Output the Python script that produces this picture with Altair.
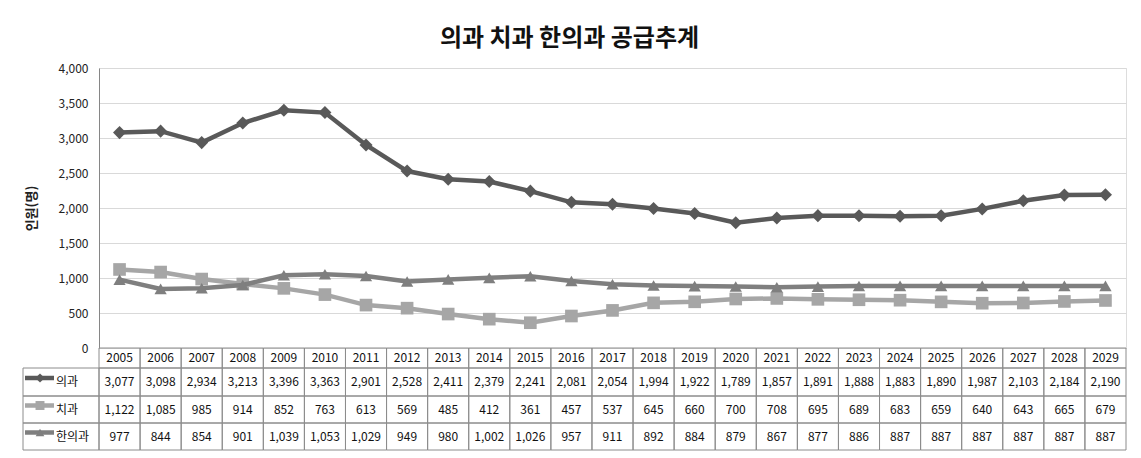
import altair as alt
import pandas as pd

years = ["2005", "2006", "2007", "2008", "2009", "2010", "2011", "2012", "2013",
         "2014", "2015", "2016", "2017", "2018", "2019", "2020", "2021", "2022",
         "2023", "2024", "2025", "2026", "2027", "2028", "2029"]
medical = [3077, 3098, 2934, 3213, 3396, 3363, 2901, 2528, 2411, 2379, 2241, 2081, 2054,
           1994, 1922, 1789, 1857, 1891, 1888, 1883, 1890, 1987, 2103, 2184, 2190]
dental = [1122, 1085, 985, 914, 852, 763, 613, 569, 485, 412, 361, 457, 537,
          645, 660, 700, 708, 695, 689, 683, 659, 640, 643, 665, 679]
oriental = [977, 844, 854, 901, 1039, 1053, 1029, 949, 980, 1002, 1026, 957, 911,
            892, 884, 879, 867, 877, 886, 887, 887, 887, 887, 887, 887]
y_ticks = [0, 500, 1000, 1500, 2000, 2500, 3000, 3500, 4000]

series_names = ["의과", "치과", "한의과"]
series_values = [medical, dental, oriental]
series_colors = ["#595959", "#A6A6A6", "#7F7F7F"]
series_shapes = ["diamond", "square", "triangle-up"]
series_sizes = [170, 160, 150]

FONT = "Noto Sans CJK KR"
BORDER = "#8C8C8C"

rows = []
for name, vals in zip(series_names, series_values):
    for y, v in zip(years, vals):
        rows.append({"year": y, "series": name, "value": v})
df = pd.DataFrame(rows)
year_df = pd.DataFrame({"year": years})

x_enc = alt.X("year:O", sort=years, axis=None,
              scale=alt.Scale(type="band", paddingInner=0, paddingOuter=0))
y_enc = alt.Y("value:Q", scale=alt.Scale(domain=[0, 4000]),
              axis=alt.Axis(values=y_ticks, format=",.0f", title="인원(명)", grid=True,
                            gridColor="#D9D9D9", domainColor="#868686", ticks=False,
                            labelPadding=11, labelFont=FONT, labelFontSize=12,
                            labelColor="#222222", titleFont=FONT, titleFontSize=13,
                            titleFontWeight="bold", titleColor="#222222", titlePadding=20))

layers = []
for name, color, shape, size in zip(series_names, series_colors, series_shapes, series_sizes):
    sub = df[df["series"] == name]
    base = alt.Chart(sub)
    layers.append(base.mark_line(color=color, strokeWidth=4.5).encode(x=x_enc, y=y_enc))
    layers.append(base.mark_point(color=color, shape=shape, filled=True, opacity=1, size=size)
                  .encode(x=x_enc, y=y_enc))

# table rows: (top, bottom) in pixels relative to plot top
row_bounds = [(280, 300), (300, 328), (328, 355), (355, 382)]

hdr_top, hdr_bot = row_bounds[0]
layers.append(alt.Chart(year_df).mark_rect(fill="transparent", stroke=BORDER, strokeWidth=1)
              .encode(x=x_enc, y=alt.value(hdr_top), y2=alt.value(hdr_bot)))
layers.append(alt.Chart(year_df).mark_text(font=FONT, fontSize=12, color="#111111", baseline="middle")
              .encode(x=x_enc, y=alt.value((hdr_top + hdr_bot) / 2), text="year:N"))

for i, (name, color, shape, size) in enumerate(zip(series_names, series_colors, series_shapes, series_sizes)):
    top, bot = row_bounds[i + 1]
    mid = (top + bot) / 2
    sub = df[df["series"] == name]
    lab = pd.DataFrame({"series": [name]})
    layers.append(alt.Chart(sub).mark_rect(fill="transparent", stroke=BORDER, strokeWidth=1)
                  .encode(x=x_enc, y=alt.value(top), y2=alt.value(bot)))
    layers.append(alt.Chart(sub).mark_text(font=FONT, fontSize=12, color="#111111", baseline="middle")
                  .encode(x=x_enc, y=alt.value(mid), text=alt.Text("value:Q", format=",")))
    layers.append(alt.Chart(lab).mark_rect(fill="transparent", stroke=BORDER, strokeWidth=1)
                  .encode(x=alt.value(-76), x2=alt.value(0), y=alt.value(top), y2=alt.value(bot)))
    layers.append(alt.Chart(lab).mark_rule(color=color, strokeWidth=4.5)
                  .encode(x=alt.value(-74), x2=alt.value(-45), y=alt.value(mid - 4)))
    layers.append(alt.Chart(lab).mark_point(color=color, shape=shape, filled=True, opacity=1, size=size * 0.5)
                  .encode(x=alt.value(-59), y=alt.value(mid - 4)))
    layers.append(alt.Chart(lab).mark_text(font=FONT, fontSize=12, color="#111111", align="left", baseline="middle")
                  .encode(x=alt.value(-43), y=alt.value(mid), text="series:N"))

chart = alt.layer(*layers).properties(
    width=1027, height=280,
    title=alt.TitleParams("의과 치과 한의과 공급추계", font=FONT, fontSize=24, fontWeight="bold",
                          color="#111111", anchor="middle", offset=11, dx=-43),
    autosize=alt.AutoSizeParams(type="none"),
    padding={"left": 99, "top": 68, "right": 15, "bottom": 110},
).configure_view(stroke=None).configure(background="white")

chart.save("out.html", embed_options={"renderer": "svg", "actions": False})
